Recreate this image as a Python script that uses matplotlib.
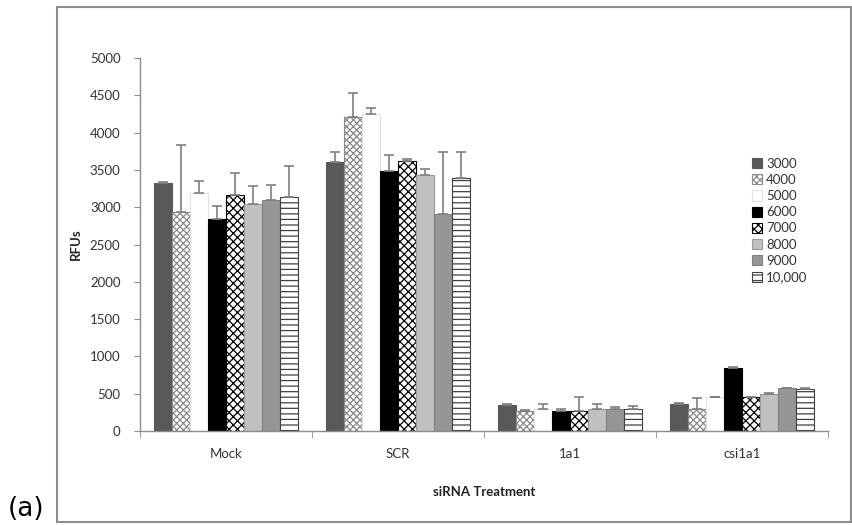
import matplotlib
matplotlib.use("Agg")
import matplotlib.pyplot as plt
import numpy as np
from matplotlib.patches import Rectangle

plt.rcParams["font.family"] = ["Lato", "DejaVu Sans"]
plt.rcParams["hatch.linewidth"] = 0.9

# ---- data ----
treatments = ["Mock", "SCR", "1a1", "csi1a1"]
series_labels = ["3000", "4000", "5000", "6000", "7000", "8000", "9000", "10,000"]

rfu_3000 = [3320, 3600, 350, 360]
rfu_4000 = [2930, 4210, 270, 300]
rfu_5000 = [3190, 4250, 290, 450]
rfu_6000 = [2840, 3480, 270, 840]
rfu_7000 = [3160, 3620, 270, 450]
rfu_8000 = [3040, 3430, 300, 490]
rfu_9000 = [3100, 2910, 300, 570]
rfu_10000 = [3140, 3390, 300, 560]

err_3000 = [20, 140, 10, 10]
err_4000 = [900, 320, 10, 140]
err_5000 = [160, 80, 70, 10]
err_6000 = [180, 220, 30, 20]
err_7000 = [300, 20, 190, 10]
err_8000 = [240, 80, 60, 15]
err_9000 = [200, 830, 20, 10]
err_10000 = [410, 350, 40, 15]

values = [rfu_3000, rfu_4000, rfu_5000, rfu_6000, rfu_7000, rfu_8000, rfu_9000, rfu_10000]
errors = [err_3000, err_4000, err_5000, err_6000, err_7000, err_8000, err_9000, err_10000]

# (facecolor, edgecolor, hatch) per series
styles = [
    ("#595959", "#595959", None),
    ("white", "#8a8a8a", "xxxxx"),
    ("white", "#e0e0e0", None),
    ("black", "black", None),
    ("white", "black", "xxxx"),
    ("#c0c0c0", "#9a9a9a", None),
    ("#969696", "#808080", None),
    ("white", "#404040", "---"),
]

fig = plt.figure(figsize=(8.52, 5.25), dpi=100)
W, H = 852, 525

# chart frame
fig.patches.append(Rectangle((57 / W, 1 - 522 / H), (851 - 57) / W, (522 - 7) / H,
                             transform=fig.transFigure, fill=False,
                             edgecolor="#8c8c8c", linewidth=1.5))

ax = fig.add_axes([140 / W, 1 - 431 / H, 688 / W, 373 / H])

x = np.arange(len(treatments))
n = len(series_labels)
bw = 0.843 / n
ecol = "#808080"
for i, (vals, errs, (fc, ec, ht)) in enumerate(zip(values, errors, styles)):
    pos = x - 0.843 / 2 + bw * (i + 0.5)
    ax.bar(pos, vals, bw, color=fc, edgecolor=ec, hatch=ht, linewidth=0.8,
           label=series_labels[i], zorder=2)
    ax.errorbar(pos, vals, yerr=[np.zeros(len(errs)), errs], fmt="none",
                ecolor=ecol, elinewidth=1.2, capsize=3.5, capthick=1.2, zorder=3)

ax.set_xlim(-0.5, len(treatments) - 0.5)
ax.set_ylim(0, 5000)
ax.set_yticks(np.arange(0, 5001, 500))
ax.set_xticks(x)
ax.set_xticklabels(treatments)
ax.set_xticks(np.arange(-0.5, len(treatments)), minor=True)
ax.tick_params(axis="x", which="major", length=0, pad=12, labelsize=9.5, labelcolor="#333333")
ax.tick_params(axis="x", which="minor", length=5, color="#8c8c8c", direction="out")
ax.tick_params(axis="y", length=4, color="#8c8c8c", labelsize=9.5, labelcolor="#333333", pad=10)

for side in ["top", "right"]:
    ax.spines[side].set_visible(False)
for side in ["left", "bottom"]:
    ax.spines[side].set_color("#8c8c8c")
    ax.spines[side].set_linewidth(1.0)

ax.set_ylabel("RFUs", fontsize=9.5, fontweight="bold", color="#222222", labelpad=6)
ax.set_xlabel("siRNA Treatment", fontsize=9.5, fontweight="bold", color="#222222", labelpad=19)

ax.legend(loc="upper left", bbox_to_anchor=(745 / W, 1 - 151 / H),
          bbox_transform=fig.transFigure, frameon=False, fontsize=9.5,
          handlelength=0.8, handleheight=0.8, handletextpad=0.3,
          labelspacing=0.32, borderpad=0, labelcolor="#333333")

fig.text(8 / W, 1 - 509 / H, "(a)", fontsize=19, va="center", ha="left",
         color="black", family=["DejaVu Sans"])

fig.savefig("out.png", dpi=100)
